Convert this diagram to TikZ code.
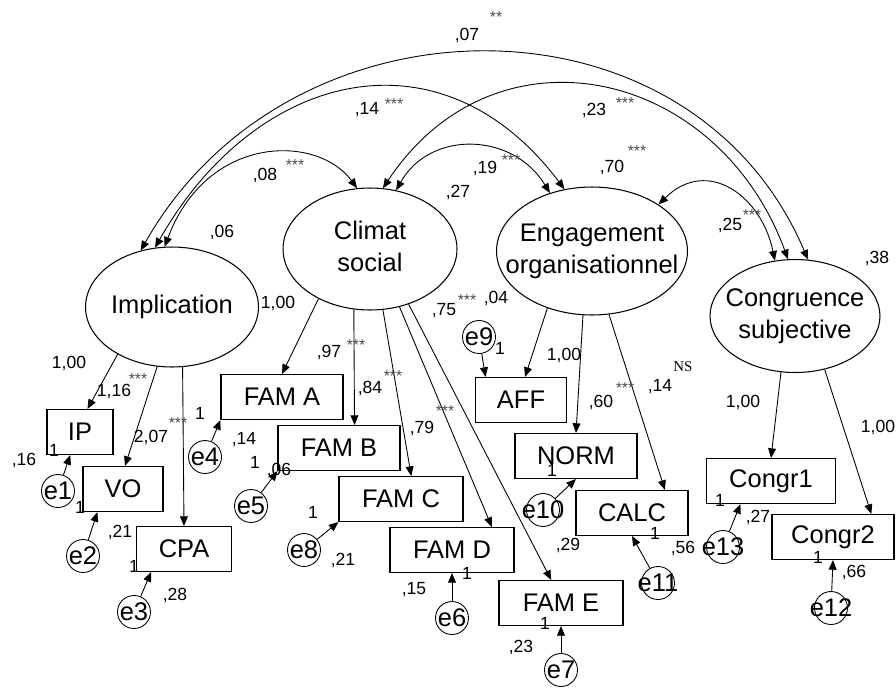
\documentclass[tikz,border=0pt]{standalone}
\usepackage{fontspec}
\setmainfont{Liberation Sans}
\newfontfamily\nsfont{Liberation Serif}
\usetikzlibrary{arrows.meta,shapes.geometric}

% text of a latent variable, kept out of the ellipse size
\newcommand{\lvname}[1]{\makebox[0pt]{\begin{tabular}{@{}c@{}}#1\end{tabular}}}
\newcommand{\errname}[1]{\makebox[0pt]{#1}}

\begin{document}
\begin{tikzpicture}[x=0.02cm,y=-0.02cm]
\tikzstyle{latent} = [
	shape=ellipse,
	draw=black, %border of the latent variable
	line width=0.6pt,
	inner sep=0pt,
	font=\fontsize{14.5}{18.5}\selectfont
];
\tikzstyle{obs} = [
	shape=rectangle,
	draw=black,
	line width=0.6pt,
	inner sep=0pt,
	minimum height=0.9cm,
	font=\fontsize{14.5}{17}\selectfont
];
\tikzstyle{err} = [
	shape=circle,
	draw=black,
	line width=0.5pt,
	inner sep=0pt,
	minimum size=0.66cm,
	font=\fontsize{14.5}{17}\selectfont
];
\tikzstyle{val} = [inner sep=0pt, font=\fontsize{10}{12}\selectfont];
\tikzstyle{sig} = [inner sep=0pt, text=black!70, font=\fontsize{9}{9}\selectfont];
\tikzstyle{ns} = [inner sep=0pt, font=\nsfont\fontsize{8.5}{9}\selectfont];
\tikzstyle{arr} = [-{Triangle[length=5.5pt,width=4.5pt]}, line width=0.5pt];
\tikzstyle{dbl} = [{Triangle[length=5.5pt,width=4.5pt]}-{Triangle[length=5.5pt,width=4.5pt]}, line width=0.5pt];

\useasboundingbox (0,0) rectangle (896,687);

%latent variables
\node[latent, minimum width=3.46cm, minimum height=2.4cm] (Imp) at (172,307) {\lvname{Implication}};
\node[latent, minimum width=3.48cm, minimum height=2.44cm] (Cli) at (370,249) {\lvname{Climat\\social}};
\node[latent, minimum width=3.82cm, minimum height=2.56cm] (Eng) at (592,251) {\lvname{Engagement\\organisationnel}};
\node[latent, minimum width=3.4cm, minimum height=2.26cm] (Con) at (795,316) {\lvname{Congruence\\subjective}};

%observed variables
\node[obs, minimum width=1.32cm] (IP) at (80,432) {IP};
\node[obs, minimum width=1.6cm] (VO) at (123,489) {VO};
\node[obs, minimum width=1.9cm] (CPA) at (184,549) {CPA};
\node[obs, minimum width=2.44cm] (FA) at (282,397) {FAM A};
\node[obs, minimum width=2.44cm] (FB) at (339,448) {FAM B};
\node[obs, minimum width=2.48cm] (FC) at (401,499) {FAM C};
\node[obs, minimum width=2.48cm] (FD) at (452,550) {FAM D};
\node[obs, minimum width=2.48cm] (FE) at (561,603) {FAM E};
\node[obs, minimum width=1.82cm] (AFF) at (521,400) {AFF};
\node[obs, minimum width=2.44cm] (NORM) at (576,456) {NORM};
\node[obs, minimum width=2.24cm] (CALC) at (632,513) {CALC};
\node[obs, minimum width=2.58cm] (C1) at (771,481) {Congr1};
\node[obs, minimum width=2.44cm] (C2) at (833,537) {Congr2};

%errors
\node[err] (e1) at (58,491) {\errname{e1}};
\node[err] (e2) at (83,556) {\errname{e2}};
\node[err] (e3) at (134,612) {\errname{e3}};
\node[err] (e4) at (205,457) {\errname{e4}};
\node[err] (e5) at (251,506) {\errname{e5}};
\node[err] (e8) at (304,550) {\errname{e8}};
\node[err] (e6) at (452,618) {\errname{e6}};
\node[err] (e7) at (561,670) {\errname{e7}};
\node[err] (e9) at (479,337) {\errname{e9}};
\node[err] (e10) at (543,510) {\errname{e10}};
\node[err] (e11) at (658,583) {\errname{e11}};
\node[err] (e13) at (723,547) {\errname{e13}};
\node[err] (e12) at (831,608) {\errname{e12}};

%covariances between latent variables
\draw[dbl] (Imp.119) .. controls (290,-13) and (691,-16) .. (Con.77);
\draw[dbl] (Imp.106) .. controls (256,70) and (441,25) .. (Eng.114);
\draw[dbl] (Imp.97) .. controls (207,134) and (317,134) .. (Cli.102);
\draw[dbl] (Cli.66) .. controls (430,130) and (513,132) .. (Eng.126);
\draw[dbl] (Cli.78) .. controls (495,19) and (717,67) .. (Con.97);
\draw[dbl] (Eng.35) .. controls (708,156) and (762,197) .. (Con.110);

%loadings
\path[arr]
	(Imp.221) edge[] (IP.72)
	(Imp.256) edge[] (VO.85)
	(Imp.280) edge[] (CPA.north)
	(Cli.224) edge[] (FA.north)
	(Cli.255) edge[] (FB.56)
	(Cli.282) edge[] (FC.66)
	(Cli.297) edge[] (FD.30)
	(Cli.305) edge[] (FE.113)
	(Eng.232) edge[] (AFF.80)
	(Eng.262) edge[] (NORM.north)
	(Eng.285) edge[] (CALC.35)
	(Con.256) edge[] (C1.north)
	(Con.299) edge[] (C2.31)
;

%error terms
\path[arr]
	(e1) edge[] (IP.247)
	(e2) edge[] (VO.222)
	(e3) edge[] (CPA.215)
	(e4) edge[] (FA.south west)
	(e5) edge[] (FB.south west)
	(e8) edge[] (FC.south west)
	(e6) edge[] (FD.south)
	(e7) edge[] (FE.south)
	(e9) edge[] (AFF.147)
	(e10) edge[] (NORM.south)
	(e11) edge[] (CALC.south)
	(e13) edge[] (C1.217)
	(e12) edge[] (C2.south)
;

%covariance and variance values
\node[val] (c07) at (467,35) {,07};
\node[sig] (s07) at (496,17) {**};
\node[val] (c14) at (367,110) {,14};
\node[sig] (s14) at (394,104) {***};
\node[val] (c23) at (594,110) {,23};
\node[sig] (s23) at (625,103) {***};
\node[val] (c08) at (265,175) {,08};
\node[sig] (s08) at (295,165) {***};
\node[val] (c19) at (485,168) {,19};
\node[sig] (s19) at (511,160) {***};
\node[val] (c70) at (612,167) {,70};
\node[sig] (s70) at (637,151) {***};
\node[val] (c25) at (730,225) {,25};
\node[sig] (s25) at (752,215) {***};
\node[val] (v06) at (222,232) {,06};
\node[val] (v27) at (458,192) {,27};
\node[val] (v38) at (877,258) {,38};

%loading values
\node[val] (l1) at (69,363) {1,00};
\node[val] (l2) at (114,391) {1,16};
\node[sig] (l2s) at (138,379) {***};
\node[val] (l3) at (151,437) {2,07};
\node[sig] (l3s) at (178,423) {***};
\node[val] (l4) at (278,303) {1,00};
\node[val] (l5) at (329,352) {,97};
\node[sig] (l5s) at (356,345) {***};
\node[val] (l6) at (370,388) {,84};
\node[sig] (l6s) at (393,376) {***};
\node[val] (l7) at (422,428) {,79};
\node[sig] (l7s) at (445,411) {***};
\node[val] (l8) at (444,311) {,75};
\node[sig] (l8s) at (467,300) {***};
\node[val] (l9) at (564,355) {1,00};
\node[val] (l10) at (601,402) {,60};
\node[sig] (l10s) at (625,388) {***};
\node[val] (l11) at (660,387) {,14};
\node[ns] (l11s) at (683,367) {NS};
\node[val] (l12) at (743,402) {1,00};
\node[val] (l13) at (878,427) {1,00};

%error weights and variances
\node[val] (w1) at (54,450) {1};
\node[val] (r1) at (24,460) {,16};
\node[val] (w2) at (80,507) {1};
\node[val] (r2) at (120,532) {,21};
\node[val] (w3) at (134,566) {1};
\node[val] (r3) at (175,595) {,28};
\node[val] (w4) at (200,413) {1};
\node[val] (r4) at (244,440) {,14};
\node[val] (w5) at (255,462) {1};
\node[val] (r5) at (279,470) {,06};
\node[val] (w8) at (313,512) {1};
\node[val] (r8) at (343,560) {,21};
\node[val] (w6) at (467,573) {1};
\node[val] (r6) at (414,590) {,15};
\node[val] (w7) at (545,623) {1};
\node[val] (r7) at (521,647) {,23};
\node[val] (w9) at (500,348) {1};
\node[val] (r9) at (496,298) {,04};
\node[val] (w10) at (552,470) {1};
\node[val] (r10) at (568,545) {,29};
\node[val] (w11) at (655,533) {1};
\node[val] (r11) at (683,548) {,56};
\node[val] (w13) at (720,500) {1};
\node[val] (r13) at (758,517) {,27};
\node[val] (w12) at (818,557) {1};
\node[val] (r12) at (854,572) {,66};

\end{tikzpicture}
\end{document}
